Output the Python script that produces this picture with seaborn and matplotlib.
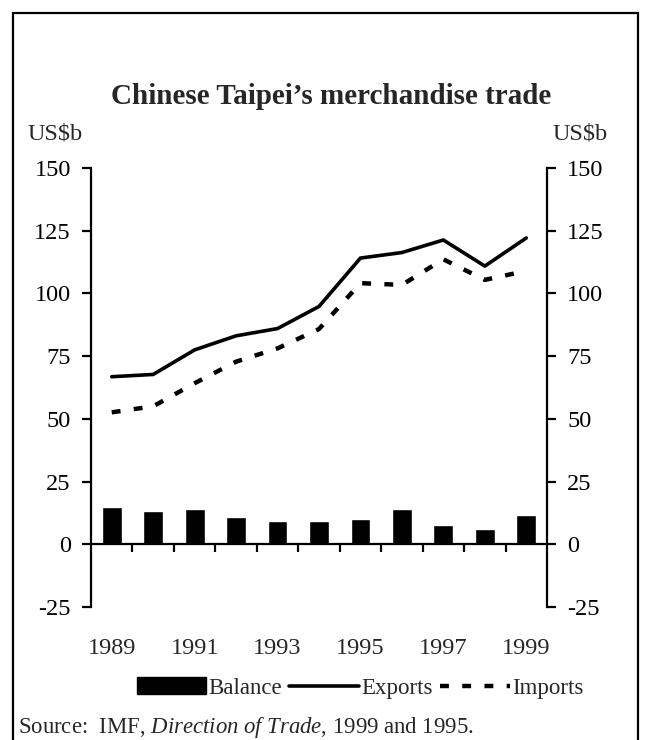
# %% Requirements and constants
import numpy as np
import pandas as pd
import seaborn as sns
import matplotlib.pyplot as plt
from matplotlib.patches import Rectangle, Patch
from matplotlib.lines import Line2D

years = ['1989', '1990', '1991', '1992', '1993', '1994',
         '1995', '1996', '1997', '1998', '1999']
exports = [66.8, 67.7, 77.5, 83.1, 86.0, 94.8, 114.1, 116.3, 121.3, 110.9, 122.1]
imports = [52.6, 55.0, 64.2, 72.8, 78.1, 85.8, 104.1, 103.4, 113.6, 105.4, 109.0]
balance = [14.7, 13.1, 13.9, 10.8, 9.2, 9.2, 10.0, 13.9, 7.6, 6.0, 11.7]
yticks = [-25, 0, 25, 50, 75, 100, 125, 150]
xlabels = ['1989', '', '1991', '', '1993', '', '1995', '', '1997', '', '1999']

df = pd.DataFrame({'year': years, 'exports': exports,
                   'imports': imports, 'balance': balance})

# %% Style
sns.set_style('white')
plt.rcParams['font.family'] = ['Liberation Serif', 'DejaVu Serif']
plt.rcParams['axes.unicode_minus'] = False
plt.rcParams['mathtext.fontset'] = 'custom'
plt.rcParams['mathtext.it'] = 'Liberation Serif:italic'
plt.rcParams['mathtext.rm'] = 'Liberation Serif'

FS = 17.5
DASH = (0, (2, 3.0))

fig = plt.figure(figsize=(6.45, 7.4), dpi=100)
ax = fig.add_axes([91 / 645, 1 - 607 / 740, 456 / 645, 439 / 740])

# %% Plot
sns.barplot(data=df, x='year', y='balance', color='black', width=0.48,
            saturation=1, ax=ax)
sns.pointplot(data=df, x='year', y='exports', color='black', marker='',
              linewidth=2.6, errorbar=None, ax=ax)
sns.pointplot(data=df, x='year', y='imports', color='black', marker='',
              linewidth=3.2, linestyle=DASH, errorbar=None, ax=ax)

ax.set_xlim(-0.5, len(years) - 0.5)
ax.set_ylim(-25, 150)
ax.set_xlabel('')
ax.set_ylabel('')

# spines
for s in ['left', 'right', 'bottom']:
    ax.spines[s].set_linewidth(1.6)
    ax.spines[s].set_color('black')
ax.spines['top'].set_visible(False)
ax.spines['bottom'].set_position(('data', 0))

# y ticks on both sides
ax.set_yticks(yticks)
ax.tick_params(axis='y', which='major', direction='out', length=6.5, width=1.6,
               left=True, right=True, labelleft=True, labelright=True,
               labelsize=FS, pad=8, colors='black')

# x ticks: marks at category borders on the zero line
ax.set_xticks(np.arange(len(years) - 1) + 0.5, minor=True)
ax.set_xticks([])
ax.tick_params(axis='x', which='minor', direction='out', length=6, width=1.6,
               bottom=True, colors='black')

sec = ax.secondary_xaxis(0)
sec.set_xticks(range(len(years)), xlabels)
sec.tick_params(length=0, pad=22, labelsize=FS)
sec.spines['bottom'].set_visible(False)

# texts
fig.text(331 / 645, 1 - 97 / 740, 'Chinese Taipei\u2019s merchandise trade',
         ha='center', va='center', fontsize=21, fontweight='bold')
fig.text(28 / 645, 1 - 134 / 740, 'US$b', ha='left', va='center', fontsize=FS)
fig.text(553 / 645, 1 - 134 / 740, 'US$b', ha='left', va='center', fontsize=FS)
fig.text(18 / 645, 1 - 728 / 740,
         r'Source:  IMF, $\mathit{Direction\ of\ Trade}$, 1999 and 1995.',
         ha='left', va='center', fontsize=16.4)

# legend
handles = [Patch(facecolor='black', edgecolor='black'),
           Line2D([], [], color='black', lw=2.6),
           Line2D([], [], color='black', lw=3.2, linestyle=DASH)]
fig.legend(handles, ['Balance', 'Exports', 'Imports'], ncol=3,
           loc='center', bbox_to_anchor=(360 / 645, 1 - 688 / 740),
           frameon=False, fontsize=16.5, handlelength=3.05, handleheight=0.75,
           handletextpad=0.1, columnspacing=0.3)

# border
fig.patches.append(Rectangle((13 / 645, -0.05), 625 / 645, 1.05 - 13 / 740,
                             transform=fig.transFigure, fill=False,
                             edgecolor='black', linewidth=1.6))

fig.savefig('out.png', dpi=100)
